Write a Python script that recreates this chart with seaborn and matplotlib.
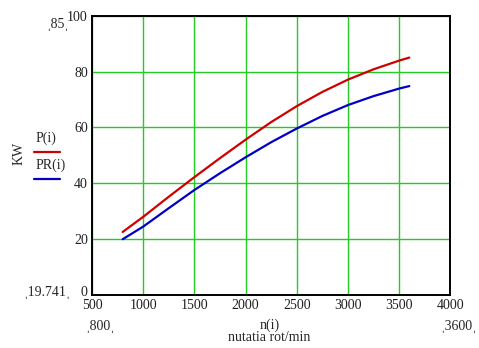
import matplotlib
matplotlib.use("Agg")
import matplotlib.pyplot as plt
import matplotlib.transforms as mtransforms
import seaborn as sns
import pandas as pd
from matplotlib.lines import Line2D

# engine speed (rot/min) and power curves (KW)
n_rpm = [800, 1000, 1250, 1500, 1750, 2000, 2250, 2500, 2750, 3000, 3250, 3500, 3600]
p_kw = [22.6, 28.0, 35.2, 42.2, 49.0, 55.6, 61.9, 67.6, 72.7, 77.1, 80.8, 83.9, 85.0]
pr_kw = [20.0, 24.5, 31.1, 37.6, 43.6, 49.3, 54.7, 59.6, 64.1, 68.0, 71.2, 73.9, 74.8]

x_ticks = [500, 1000, 1500, 2000, 2500, 3000, 3500, 4000]
y_ticks = [0, 20, 40, 60, 80, 100]

sns.set_style("white")
plt.rcParams["font.family"] = ["Liberation Serif", "DejaVu Serif"]

df = pd.concat([
    pd.DataFrame({"n": n_rpm, "kw": p_kw, "series": "P(i)"}),
    pd.DataFrame({"n": n_rpm, "kw": pr_kw, "series": "PR(i)"}),
])

fig = plt.figure(figsize=(4.79, 3.48), dpi=100)
ax = fig.add_axes([0.192, 0.152, 0.748, 0.803])

sns.lineplot(data=df, x="n", y="kw", hue="series",
             palette={"P(i)": "#d00000", "PR(i)": "#0000c8"},
             linewidth=1.6, legend=False, ax=ax)

ax.set_xlim(500, 4000)
ax.set_ylim(0, 100)
ax.set_xticks(x_ticks)
ax.set_yticks(y_ticks)
ax.tick_params(length=0, labelsize=10, pad=3, colors="#202020")
ax.grid(True, color="#22cc22", linewidth=1.0)
ax.set_axisbelow(True)
for s in ax.spines.values():
    s.set_color("black")
    s.set_linewidth(1.4)
ax.set_xlabel("")
ax.set_ylabel("")

# lift the "0" label slightly so it clears "500"
zero_lbl = ax.get_yticklabels()[0]
zero_lbl.set_transform(zero_lbl.get_transform() +
                       mtransforms.ScaledTranslation(0, 4 / 100, fig.dpi_scale_trans))

# axis labels
fig.text(0.563, 0.066, "n(i)", ha="center", va="center", fontsize=10)
fig.text(0.563, 0.031, "nutatia rot/min", ha="center", va="center", fontsize=10)
fig.text(0.04, 0.56, "KW", ha="center", va="center", rotation=90, fontsize=10)

# legend
fig.text(0.075, 0.603, "P(i)", ha="left", va="center", fontsize=10)
fig.add_artist(Line2D([0.071, 0.125], [0.564, 0.564], color="#d00000", lw=1.6,
                      transform=fig.transFigure))
fig.text(0.075, 0.526, "PR(i)", ha="left", va="center", fontsize=10)
fig.add_artist(Line2D([0.071, 0.125], [0.486, 0.486], color="#0000c8", lw=1.6,
                      transform=fig.transFigure))

# range markers
fig.text(0.121, 0.93, "\u02CC85\u02CC", ha="center", va="center", fontsize=10)
fig.text(0.098, 0.16, "\u02CC19.741\u02CC", ha="center", va="center", fontsize=10)
fig.text(0.208, 0.062, "\u02CC800\u02CC", ha="center", va="center", fontsize=10)
fig.text(0.958, 0.062, "\u02CC3600\u02CC", ha="center", va="center", fontsize=10)

fig.savefig("out.png", dpi=100)
